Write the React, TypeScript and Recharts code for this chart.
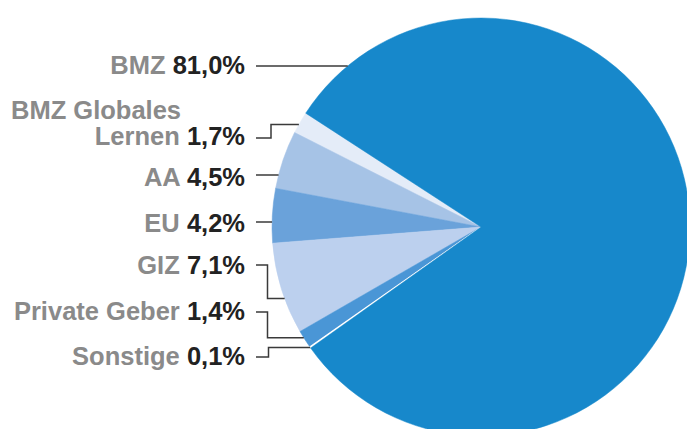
import React from 'react';
import { PieChart, Pie, Cell } from 'recharts';

// Funding shares (percent), in the order the slices run counter-clockwise
const categories = [
  'BMZ Globales Lernen',
  'AA',
  'EU',
  'GIZ',
  'Private Geber',
  'Sonstige',
  'BMZ',
];
const shares = [1.7, 4.5, 4.2, 7.1, 1.4, 0.1, 81.0];
const colors = [
  '#e4ecf8',
  '#a6c3e6',
  '#6aa2da',
  '#bcd0ee',
  '#4a96d6',
  '#ffffff',
  '#1788cb',
];

const data = categories.map((name, i) => ({ name, value: shares[i] }));

// label placement: text baseline, leader line y, and (for elbow lines)
// where along the slice arc the leader ends
const labelLayout: Record<
  string,
  { baseline: number; lineY: number; elbowX?: number; t?: number; wrap?: boolean }
> = {
  BMZ: { baseline: 74, lineY: 66 },
  'BMZ Globales Lernen': { baseline: 145, lineY: 138, elbowX: 271, t: 0.59, wrap: true },
  AA: { baseline: 186, lineY: 175 },
  EU: { baseline: 232, lineY: 222 },
  GIZ: { baseline: 274, lineY: 265, elbowX: 267.5, t: 0.61 },
  'Private Geber': { baseline: 320, lineY: 312, elbowX: 267.5, t: 0.4 },
  Sonstige: { baseline: 365, lineY: 357, elbowX: 268.5, t: 0.5 },
};

const TEXT_RIGHT = 245;
const WRAP_LEFT = 11;
const LINE_LEFT = 256;
const RAD = Math.PI / 180;

const fmt = (v: number) => `${v.toFixed(1).replace('.', ',')}%`;

function SliceLabel(props: any) {
  const { cx, cy, outerRadius, startAngle, endAngle, name, value } = props;
  const layout = labelLayout[name];
  if (!layout) return null;

  let points: string;
  if (layout.elbowX !== undefined) {
    const a = (startAngle + (layout.t ?? 0.5) * (endAngle - startAngle)) * RAD;
    const px = cx + outerRadius * Math.cos(-a);
    const py = cy + outerRadius * Math.sin(-a);
    points = `${LINE_LEFT},${layout.lineY} ${layout.elbowX},${layout.lineY} ${layout.elbowX},${py} ${px},${py}`;
  } else {
    const dy = layout.lineY - cy;
    const px = cx - Math.sqrt(outerRadius * outerRadius - dy * dy);
    points = `${LINE_LEFT},${layout.lineY} ${px},${layout.lineY}`;
  }

  const words = String(name).split(' ');
  const lastLine = layout.wrap ? words[words.length - 1] : name;
  const firstLine = layout.wrap ? words.slice(0, -1).join(' ') : null;

  return (
    <g>
      <polyline
        points={points}
        fill="none"
        stroke="#3a3a3a"
        strokeWidth={1.5}
      />
      {firstLine && (
        <text
          x={WRAP_LEFT}
          y={layout.baseline - 26}
          textAnchor="start"
          fill="#8a8a8a"
        >
          {firstLine}
        </text>
      )}
      <text x={TEXT_RIGHT} y={layout.baseline} textAnchor="end">
        <tspan fill="#8a8a8a">{lastLine} </tspan>
        <tspan fill="#222222">{fmt(value)}</tspan>
      </text>
    </g>
  );
}

export default function App() {
  return (
    <div style={{ width: 687, height: 429, background: '#fff' }}>
      <style>{'body{margin:0}'}</style>
      <PieChart
        width={687}
        height={429}
        margin={{ top: 0, right: 0, bottom: 0, left: 0 }}
        style={{
          fontFamily: '"Liberation Sans", Arial, sans-serif',
          fontWeight: 700,
          fontSize: 25.5,
        }}
      >
        <Pie
          data={data}
          dataKey="value"
          nameKey="name"
          cx={481}
          cy={227}
          innerRadius={0}
          outerRadius={209}
          startAngle={147}
          endAngle={507}
          label={SliceLabel}
          labelLine={false}
          isAnimationActive={false}
        >
          {data.map((d, i) => (
            <Cell
              key={d.name}
              fill={colors[i]}
              stroke={d.name === 'Sonstige' ? '#ffffff' : colors[i]}
              strokeWidth={d.name === 'Sonstige' ? 1.2 : 0.5}
            />
          ))}
        </Pie>
      </PieChart>
    </div>
  );
}
